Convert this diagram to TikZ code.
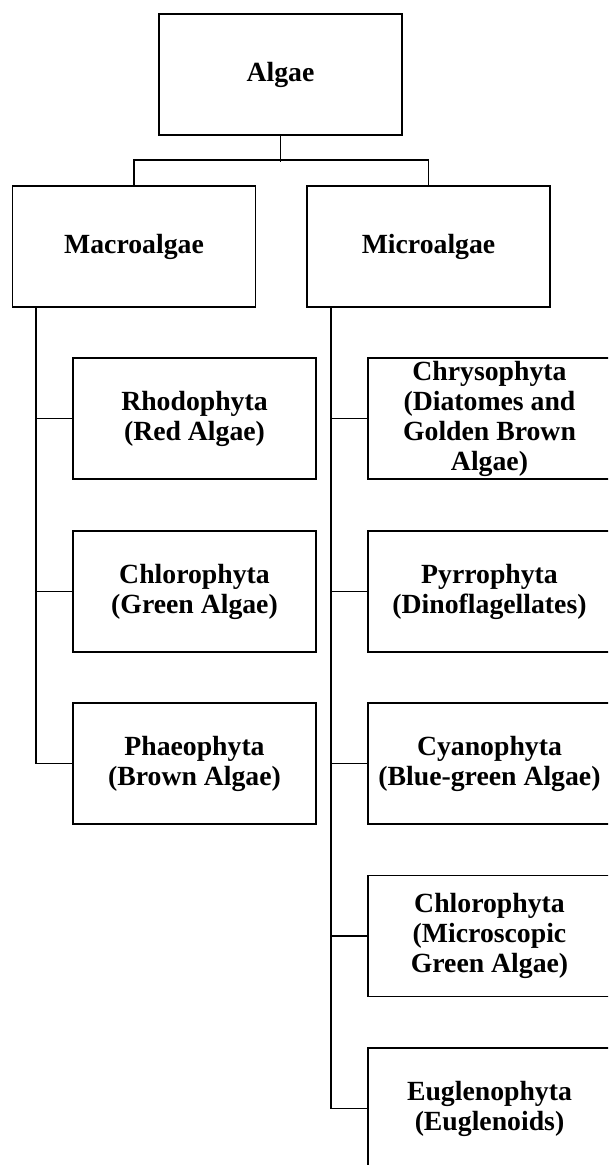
\documentclass[tikz,border=0pt]{standalone}
\usepackage{fontspec}
\setmainfont{Liberation Serif}
\begin{document}
\begin{tikzpicture}[x=0.75pt,y=-0.75pt,
  box/.style={draw,line width=1.3pt,minimum width=182.25pt,minimum height=90.75pt,
    inner sep=0pt,align=center,font=\fontsize{20.8pt}{22.5pt}\selectfont\bfseries},
  link/.style={line width=1.3pt}]

  % Fix the page size to the reference and cut off what runs past it
  \useasboundingbox (0,0) rectangle (608,1165);
  \clip (0,0) rectangle (608,1165);

  % Top level and the two groups
  \node[box] (algae) at (280.5,74.5) {Algae};
  \node[box] (macro) at (134,246.5) {Macroalgae};
  \node[box] (micro) at (428.5,246.5) {Microalgae};

  % Macroalgae divisions
  \node[box] (rhodo) at (194.5,418.5) {Rhodophyta\\(Red Algae)};
  \node[box] (chloro) at (194.5,591.5) {Chlorophyta\\(Green Algae)};
  \node[box] (phaeo) at (194.5,763.5) {Phaeophyta\\(Brown Algae)};

  % Microalgae divisions
  \node[box] (chryso) at (489.5,418.5) {Chrysophyta\\(Diatomes and\\Golden Brown\\Algae)};
  \node[box] (pyrro) at (489.5,591.5) {Pyrrophyta\\(Dinoflagellates)};
  \node[box] (cyano) at (489.5,763.5) {Cyanophyta\\(Blue-green Algae)};
  \node[box] (mchloro) at (489.5,936) {Chlorophyta\\(Microscopic\\Green Algae)};
  \node[box] (eugleno) at (489.5,1108.5) {Euglenophyta\\(Euglenoids)};

  % Branch from the top box to the two groups
  \draw[link] (algae.south) -- ++(0,26);
  \draw[link] (macro.north) -- ++(0,-25) -| (micro.north);

  % Trunks running down the left side of each group
  \coordinate (mt) at (36,307);
  \coordinate (ct) at (331,307);
  \draw[link] (mt) |- (phaeo.west);
  \draw[link] (rhodo.west) -- (rhodo.west -| mt);
  \draw[link] (chloro.west) -- (chloro.west -| mt);

  \draw[link] (ct) |- (eugleno.west);
  \draw[link] (chryso.west) -- (chryso.west -| ct);
  \draw[link] (pyrro.west) -- (pyrro.west -| ct);
  \draw[link] (cyano.west) -- (cyano.west -| ct);
  \draw[link] (mchloro.west) -- (mchloro.west -| ct);

\end{tikzpicture}
\end{document}
